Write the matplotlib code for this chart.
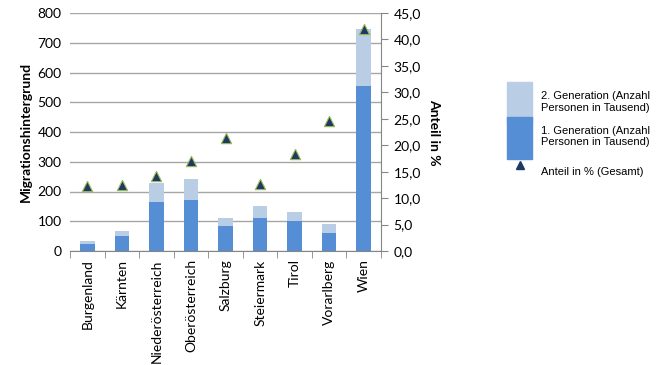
import matplotlib.pyplot as plt
import numpy as np
from matplotlib.patches import Patch, Rectangle
from matplotlib.lines import Line2D
from matplotlib.legend_handler import HandlerPatch

plt.rcParams['font.family'] = ['Lato', 'DejaVu Sans']

# Daten
laender = ['Burgenland', 'Kärnten', 'Niederösterreich', 'Oberösterreich', 'Salzburg',
           'Steiermark', 'Tirol', 'Vorarlberg', 'Wien']
gen1 = [24, 52, 165, 172, 84, 112, 102, 62, 553]
gen2 = [11, 15, 64, 71, 28, 39, 28, 29, 192]
anteil = [12.2, 12.4, 14.2, 17.0, 21.4, 12.6, 18.3, 24.6, 42.0]

c_gen1 = '#558ED5'
c_gen2 = '#B9CDE5'
c_tri = '#1F3864'

fig = plt.figure(figsize=(6.59, 3.65), dpi=100)
ax = fig.add_axes([70 / 659, 1 - 251 / 365, 311 / 659, 238 / 365])
x = np.arange(len(laender))

ax.bar(x, gen1, width=0.42, color=c_gen1, zorder=2)
ax.bar(x, gen2, width=0.42, bottom=gen1, color=c_gen2, zorder=2)

ax.set_xlim(-0.5, len(laender) - 0.5)
ax.set_ylim(0, 800)
ax.set_yticks(range(0, 801, 100))
ax.yaxis.grid(True, color='#A6A6A6', linewidth=1, zorder=0)
ax.set_axisbelow(True)
ax.set_xticks(x)
ax.set_xticklabels(laender, rotation=90, fontsize=10)
ax.set_xticks(np.arange(-0.5, len(laender), 1), minor=True)
ax.tick_params(axis='x', which='major', length=0, pad=6)
ax.tick_params(axis='x', which='minor', length=5, color='#868686')
ax.tick_params(axis='y', length=0, labelsize=10, pad=6)
for s in ['top', 'right', 'left']:
    ax.spines[s].set_visible(False)
ax.spines['bottom'].set_color('#868686')
ax.set_ylabel('Migrationshintergrund', fontsize=10, fontweight='bold', labelpad=4)

ax2 = ax.twinx()
ax2.scatter(x, anteil, marker='^', s=55, color=c_tri, edgecolor='#9BBB59', linewidth=0.8, zorder=3)
ax2.set_ylim(0, 45)
ax2.set_yticks(np.arange(0, 46, 5))
ax2.set_yticklabels([f'{v:.1f}'.replace('.', ',') for v in np.arange(0, 46, 5)], fontsize=10)
ax2.tick_params(axis='y', length=5, color='#868686', pad=4)
for s in ['top', 'left', 'bottom']:
    ax2.spines[s].set_visible(False)
ax2.spines['right'].set_color('#868686')
ax2.set_ylabel('Anteil in %', fontsize=10, fontweight='bold', rotation=270, labelpad=14)


# Legendenfelder sollen ohne Luecke aneinanderstossen
def full_box(legend, orig_handle, xdescent, ydescent, width, height, fontsize):
    return Rectangle((-xdescent, -ydescent - 0.35 * fontsize), width, height + 0.7 * fontsize)


handles = [Patch(color=c_gen2, label='2. Generation (Anzahl\nPersonen in Tausend)'),
           Patch(color=c_gen1, label='1. Generation (Anzahl\nPersonen in Tausend)'),
           Line2D([], [], marker='^', linestyle='none', color=c_tri, markersize=6,
                  label='Anteil in % (Gesamt)')]
fig.legend(handles=handles, loc='upper left', bbox_to_anchor=(497 / 659, 1 - 76 / 365),
           frameon=False, handlelength=2.25, handleheight=4.4, handletextpad=0.8,
           labelspacing=0.0, prop={'family': 'Liberation Sans', 'size': 8},
           handler_map={Patch: HandlerPatch(patch_func=full_box)})

fig.savefig('out.png', dpi=100)
